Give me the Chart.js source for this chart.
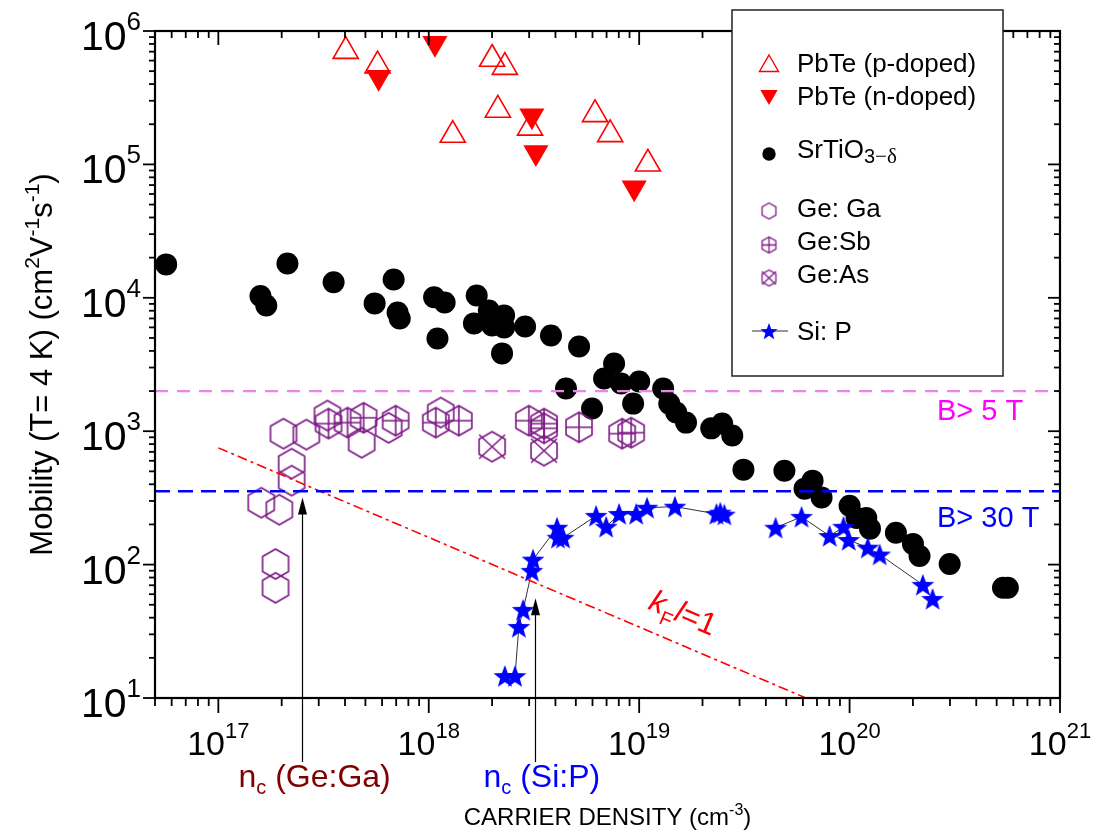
<!DOCTYPE html>
<html>
<head>
<meta charset="utf-8">
<title>Mobility vs carrier density</title>
<script src="https://cdn.jsdelivr.net/npm/chart.js@4.4.1/dist/chart.umd.min.js"></script>
<style>
  html, body { margin: 0; padding: 0; background: #fff; }
  canvas { display: block; }
</style>
</head>
<body>
<canvas id="mobilityChart" width="1104" height="835"></canvas>
<script>
// ---- data: carrier density (cm^-3) / mobility at 4 K (cm^2 V^-1 s^-1) ----
const xMin = 5e16, xMax = 1e21;
const yMin = 10, yMax = 1e6;
const xDecades = [17, 18, 19, 20, 21];
const yDecades = [1, 2, 3, 4, 5, 6];

const pbtePDensity  = [4.03e17, 5.71e17, 2.0e18, 2.3e18, 2.13e18, 1.3e18, 3.03e18, 6.17e18, 7.28e18, 1.1e19];
const pbtePMobility = [7.06e5, 5.5e5, 6.17e5, 5.36e5, 2.56e5, 1.66e5, 1.88e5, 2.37e5, 1.68e5, 1.01e5];

const pbteNDensity  = [5.78e17, 1.07e18, 3.09e18, 3.23e18, 9.47e18];
const pbteNMobility = [4.5e5, 8.1e5, 2.32e5, 1.23e5, 6.68e4];

const stoDensity = [5.65e16, 1.585e17, 1.69e17, 2.13e17, 3.53e17, 5.53e17, 6.81e17, 7.11e17, 7.28e17,
  1.06e18, 1.19e18, 1.10e18, 1.69e18, 1.64e18, 1.93e18, 2.0e18, 2.28e18, 2.28e18, 2.23e18, 2.87e18,
  3.81e18, 5.18e18, 4.49e18, 5.97e18, 7.6e18, 6.81e18, 8.2e18, 1.0e19, 9.36e18, 1.30e19, 1.39e19,
  1.50e19, 1.67e19, 2.20e19, 2.48e19, 2.77e19, 3.13e19, 4.9e19, 6.67e19, 6.11e19, 7.36e19, 1.0e20,
  1.08e20, 1.20e20, 1.25e20, 1.66e20, 2.0e20, 2.15e20, 2.99e20, 5.36e20, 5.65e20];
const stoMobility = [1.78e4, 1.03e4, 8.77e3, 1.81e4, 1.31e4, 9.08e3, 1.37e4, 7.77e3, 7.0e3,
  1.01e4, 9.23e3, 4.95e3, 1.04e4, 6.43e3, 8.04e3, 6.21e3, 7.38e3, 6.0e3, 3.83e3, 6.1e3,
  5.22e3, 4.32e3, 2.09e3, 1.48e3, 3.22e3, 2.48e3, 2.28e3, 2.36e3, 1.61e3, 2.09e3, 1.61e3,
  1.38e3, 1.16e3, 1.05e3, 1.14e3, 927, 515, 506, 426, 371, 318, 276,
  224, 224, 186, 173, 143, 116, 101, 67, 67];

const geGaDensity  = [1.60e17, 1.95e17, 1.87e17, 1.87e17, 2.23e17, 2.23e17, 2.04e17, 2.62e17, 3.30e17, 4.80e17, 6.45e17, 1.14e18];
const geGaMobility = [291, 258, 101, 67, 571, 426, 959, 943, 1310, 820, 1060, 1380];

const geSbDensity  = [3.34e17, 4.11e17, 4.90e17, 6.96e17, 1.08e18, 1.39e18, 2.99e18, 3.53e18, 3.53e18, 5.18e18, 8.3e18, 9.16e18];
const geSbMobility = [1140, 1160, 1260, 1200, 1160, 1200, 1200, 1140, 1050, 1070, 959, 975];

const geAsDensity  = [2.0e18, 3.53e18];
const geAsMobility = [766, 715];

// Si:P is joined by a thin line in two separate runs
const siPLowDensity  = [2.30e18, 2.57e18, 2.68e18, 2.81e18, 3.09e18, 3.13e18, 4.07e18, 4.11e18, 4.35e18,
  6.24e18, 6.97e18, 8.03e18, 9.68e18, 1.09e19, 1.48e19, 2.33e19, 2.43e19, 2.54e19];
const siPLowMobility = [14.6, 14.6, 34.1, 45.8, 89.8, 109, 189, 159, 159,
  232, 192, 240, 240, 267, 272, 240, 245, 237];
const siPHighDensity  = [4.45e19, 5.91e19, 8.04e19, 9.36e19, 9.9e19, 1.22e20, 1.39e20, 2.23e20, 2.48e20];
const siPHighMobility = [189, 228, 164, 192, 153, 134, 119, 70.5, 55.3];

// k_F l = 1 guide line end points
const kflDensity  = [1e17, 6.2e19];
const kflMobility = [750, 10];

// field limits
const fieldMobility = [2000, 355];
const fieldLabels = ['B> 5 T', 'B> 30 T'];

// critical densities marked by arrows
const ncDensity = [2.5e17, 3.2e18];
const ncTipMobility = [318, 56];
const ncNames = [' (Ge:Ga)', ' (Si:P)'];

// ---- marker images ----
const PURPLE = '#7d1a85';
const SANS = '"Liberation Sans", Arial, sans-serif';

function makeHexagon(r, mark, lw) {
  const size = Math.ceil(2 * r + 2 * lw + 2);
  const c = document.createElement('canvas');
  c.width = size; c.height = size;
  const g = c.getContext('2d');
  const cx = size / 2, cy = size / 2, w = r * Math.cos(Math.PI / 6);
  g.strokeStyle = PURPLE;
  g.lineWidth = lw;
  g.beginPath();
  for (let k = 0; k < 6; k++) {
    const a = Math.PI / 2 + k * Math.PI / 3;
    const px = cx + r * Math.cos(a), py = cy - r * Math.sin(a);
    if (k === 0) g.moveTo(px, py); else g.lineTo(px, py);
  }
  g.closePath();
  if (mark === 'plus') {
    g.moveTo(cx, cy - r); g.lineTo(cx, cy + r);
    g.moveTo(cx - w, cy); g.lineTo(cx + w, cy);
  } else if (mark === 'cross') {
    g.moveTo(cx - w, cy - 0.8 * r); g.lineTo(cx + w, cy + 0.8 * r);
    g.moveTo(cx + w, cy - 0.8 * r); g.lineTo(cx - w, cy + 0.8 * r);
  }
  g.stroke();
  return c;
}

function makeStar(R, ri, color) {
  const size = Math.ceil(2 * R + 2);
  const c = document.createElement('canvas');
  c.width = size; c.height = size;
  const g = c.getContext('2d');
  g.fillStyle = color;
  g.beginPath();
  for (let k = 0; k < 10; k++) {
    const a = -Math.PI / 2 + k * Math.PI / 5;
    const rr = k % 2 ? ri : R;
    const px = size / 2 + rr * Math.cos(a), py = size / 2 + 1 + rr * Math.sin(a);
    if (k === 0) g.moveTo(px, py); else g.lineTo(px, py);
  }
  g.closePath();
  g.fill();
  return c;
}

const hexPlain = makeHexagon(15, null, 1.6);
const hexPlus = makeHexagon(15, 'plus', 1.6);
const hexCross = makeHexagon(15, 'cross', 1.6);
const starBlue = makeStar(12, 5, '#0000ff');

const pairs = (xs, ys) => xs.map((x, i) => ({ x, y: ys[i] }));

// ---- text helpers ----
function drawRuns(ctx, runs, x, y, align) {
  let total = 0;
  runs.forEach(r => { ctx.font = r[1]; total += ctx.measureText(r[0]).width; });
  let cx = align === 'center' ? x - total / 2 : align === 'right' ? x - total : x;
  runs.forEach(r => {
    ctx.font = r[1];
    ctx.fillText(r[0], cx, y + (r[2] || 0));
    cx += ctx.measureText(r[0]).width;
  });
}

// ---- frame, ticks, labels and annotations ----
const decorations = {
  id: 'decorations',
  afterDatasetsDraw(chart) {
    const { ctx, chartArea: a, scales: { x, y } } = chart;
    ctx.save();
    ctx.strokeStyle = '#000';
    ctx.fillStyle = '#000';
    ctx.lineWidth = 2.2;
    ctx.strokeRect(a.left, a.top, a.right - a.left, a.bottom - a.top);

    const seg = (x0, y0, x1, y1) => { ctx.beginPath(); ctx.moveTo(x0, y0); ctx.lineTo(x1, y1); ctx.stroke(); };
    ctx.lineWidth = 1.8;
    for (let e = 16; e <= 21; e++) {
      for (let m = 1; m <= 9; m++) {
        const v = m * Math.pow(10, e);
        if (v < xMin * 0.999 || v > xMax * 1.001) continue;
        const px = x.getPixelForValue(v);
        const major = m === 1;
        seg(px, a.bottom, px, a.bottom + (major ? 15 : 8));
        seg(px, a.top, px, a.top + (major ? 14 : 7));
      }
    }
    for (let e = 1; e <= 6; e++) {
      for (let m = 1; m <= 9; m++) {
        const v = m * Math.pow(10, e);
        if (v > yMax * 1.001) continue;
        const py = y.getPixelForValue(v);
        const major = m === 1;
        seg(a.left, py, a.left - (major ? 12 : 6), py);
        seg(a.right, py, a.right - (major ? 12 : 6), py);
      }
    }

    // decade labels
    ctx.textBaseline = 'alphabetic';
    xDecades.forEach(e => {
      const px = x.getPixelForValue(Math.pow(10, e));
      drawRuns(ctx, [['10', '34px ' + SANS], [String(e), '22px ' + SANS, -17]], px, a.bottom + 57, 'center');
    });
    yDecades.forEach(e => {
      const py = y.getPixelForValue(Math.pow(10, e));
      drawRuns(ctx, [['10', '41px ' + SANS], [String(e), '26px ' + SANS, -20]], a.left - 14, py + 19, 'right');
    });

    // axis titles
    drawRuns(ctx, [['CARRIER DENSITY (cm', '24px ' + SANS], ['-3', '16px ' + SANS, -10], [')', '24px ' + SANS]],
      (a.left + a.right) / 2, a.bottom + 127, 'center');
    ctx.save();
    ctx.translate(52, (a.top + a.bottom) / 2);
    ctx.rotate(-Math.PI / 2);
    drawRuns(ctx, [['Mobility (T= 4 K) (cm', '31px ' + SANS], ['2', '21px ' + SANS, -13], ['V', '31px ' + SANS],
      ['-1', '21px ' + SANS, -13], ['s', '31px ' + SANS], ['-1', '21px ' + SANS, -13], [')', '31px ' + SANS]], 0, 0, 'center');
    ctx.restore();

    // field limit labels
    const fieldColors = ['#ff00ff', '#0000ff'];
    const fieldDrop = [29, 36];
    fieldLabels.forEach((t, i) => {
      ctx.fillStyle = fieldColors[i];
      ctx.font = '29px ' + SANS;
      ctx.fillText(t, a.right - 123, y.getPixelForValue(fieldMobility[i]) + fieldDrop[i]);
    });

    // k_F l = 1 label, parallel to the guide line
    const p0x = x.getPixelForValue(kflDensity[0]), p0y = y.getPixelForValue(kflMobility[0]);
    const p1x = x.getPixelForValue(kflDensity[1]), p1y = y.getPixelForValue(kflMobility[1]);
    const ang = Math.atan2(p1y - p0y, p1x - p0x);
    const lx = x.getPixelForValue(1.0e19);
    const ly = p0y + (lx - p0x) * Math.tan(ang);
    ctx.save();
    ctx.translate(lx + 20 * Math.sin(ang), ly - 20 * Math.cos(ang));
    ctx.rotate(ang);
    ctx.fillStyle = '#ff0000';
    drawRuns(ctx, [['k', 'italic 31px ' + SANS], ['F', '20px ' + SANS, 9], ['l', 'italic 31px ' + SANS], ['=1', '31px ' + SANS]], 0, 0, 'left');
    ctx.restore();

    // critical density arrows
    const ncColors = ['#800000', '#0000ff'];
    const ncShift = [64, 52];
    ncDensity.forEach((d, i) => {
      const px = Math.round(x.getPixelForValue(d)) + 0.5;
      const tip = y.getPixelForValue(ncTipMobility[i]);
      ctx.strokeStyle = '#000';
      ctx.fillStyle = '#000';
      ctx.lineWidth = 1.2;
      seg(px, a.bottom + 64, px, tip + 10);
      ctx.beginPath();
      ctx.moveTo(px, tip);
      ctx.lineTo(px - 4.5, tip + 17);
      ctx.lineTo(px + 4.5, tip + 17);
      ctx.closePath();
      ctx.fill();
      ctx.fillStyle = ncColors[i];
      drawRuns(ctx, [['n', '32px ' + SANS], ['c', '20px ' + SANS, 7], [ncNames[i], '32px ' + SANS]],
        px - ncShift[i], a.bottom + 89, 'left');
    });
    ctx.restore();
  },
  afterDraw(chart) {
    // legend box
    const ctx = chart.ctx;
    const draw = Chart.helpers.drawPoint;
    ctx.save();
    ctx.fillStyle = '#fff';
    ctx.fillRect(732, 10, 271, 366);
    ctx.strokeStyle = '#222';
    ctx.lineWidth = 1.5;
    ctx.strokeRect(732, 10, 271, 366);

    const mx = 769, tx = 797;
    const F = '26px ' + SANS;
    ctx.textBaseline = 'alphabetic';

    ctx.strokeStyle = '#ff0000'; ctx.fillStyle = 'rgba(0,0,0,0)'; ctx.lineWidth = 1.4;
    draw(ctx, { pointStyle: 'triangle', radius: 11, rotation: 0, borderWidth: 1.4 }, mx, 66);
    ctx.fillStyle = '#ff0000';
    draw(ctx, { pointStyle: 'triangle', radius: 10, rotation: 180, borderWidth: 0 }, mx, 95);
    ctx.fillStyle = '#000';
    draw(ctx, { pointStyle: 'circle', radius: 6.7, rotation: 0, borderWidth: 0 }, mx, 154);

    const small = [makeHexagon(8, null, 1.3), makeHexagon(8, 'plus', 1.3), makeHexagon(8, 'cross', 1.3)];
    [211, 245, 278].forEach((yy, i) => draw(ctx, { pointStyle: small[i], radius: 8, rotation: 0 }, mx, yy));

    ctx.strokeStyle = '#333'; ctx.lineWidth = 1.2;
    ctx.beginPath(); ctx.moveTo(752, 331); ctx.lineTo(788, 331); ctx.stroke();
    draw(ctx, { pointStyle: makeStar(9, 3.8, '#0000ff'), radius: 8, rotation: 0 }, mx, 331);

    ctx.fillStyle = '#000';
    drawRuns(ctx, [['PbTe (p-doped)', F]], tx, 72, 'left');
    drawRuns(ctx, [['PbTe (n-doped)', F]], tx, 105, 'left');
    drawRuns(ctx, [['SrTiO', F], ['3', '20px ' + SANS, 5], ['\u2212\u03b4', '21px "Liberation Serif", serif', 5]], tx, 158, 'left');
    drawRuns(ctx, [['Ge: Ga', F]], tx, 217, 'left');
    drawRuns(ctx, [['Ge:Sb', F]], tx, 250, 'left');
    drawRuns(ctx, [['Ge:As', F]], tx, 283, 'left');
    drawRuns(ctx, [['Si: P', F]], tx, 340, 'left');
    ctx.restore();
  }
};

const markerSet = (data, extra) => Object.assign({ data, showLine: false }, extra);

new Chart(document.getElementById('mobilityChart'), {
  type: 'scatter',
  data: {
    datasets: [
      {
        data: [{ x: xMin, y: fieldMobility[0] }, { x: xMax, y: fieldMobility[0] }],
        showLine: true, pointRadius: 0, borderColor: '#ee82ee', borderWidth: 2.2, borderDash: [13, 9], order: 0
      },
      {
        data: [{ x: xMin, y: fieldMobility[1] }, { x: xMax, y: fieldMobility[1] }],
        showLine: true, pointRadius: 0, borderColor: '#0000ff', borderWidth: 2.5, borderDash: [15, 8], order: 0
      },
      {
        data: pairs(kflDensity, kflMobility),
        showLine: true, pointRadius: 0, borderColor: '#ff0000', borderWidth: 1.6, borderDash: [10, 4, 3, 4], order: 1
      },
      markerSet(pairs(pbtePDensity, pbtePMobility), {
        pointStyle: 'triangle', pointRadius: 14.5, pointBorderColor: '#ff0000',
        pointBackgroundColor: 'rgba(0,0,0,0)', pointBorderWidth: 1.6, order: 3
      }),
      markerSet(pairs(pbteNDensity, pbteNMobility), {
        pointStyle: 'triangle', pointRotation: 180, pointRadius: 14.5, pointBorderWidth: 0,
        pointBackgroundColor: '#ff0000', pointBorderColor: '#ff0000', order: 2
      }),
      markerSet(pairs(stoDensity, stoMobility), {
        pointStyle: 'circle', pointRadius: 11, pointBorderWidth: 0,
        pointBackgroundColor: '#000', pointBorderColor: '#000', order: 6
      }),
      markerSet(pairs(geGaDensity, geGaMobility), { pointStyle: hexPlain, pointRadius: 15, order: 5 }),
      markerSet(pairs(geSbDensity, geSbMobility), { pointStyle: hexPlus, pointRadius: 15, order: 5 }),
      markerSet(pairs(geAsDensity, geAsMobility), { pointStyle: hexCross, pointRadius: 15, order: 5 }),
      {
        data: pairs(siPLowDensity, siPLowMobility),
        showLine: true, borderColor: '#333', borderWidth: 1, pointStyle: starBlue, pointRadius: 10, order: 4
      },
      {
        data: pairs(siPHighDensity, siPHighMobility),
        showLine: true, borderColor: '#333', borderWidth: 1, pointStyle: starBlue, pointRadius: 10, order: 4
      }
    ]
  },
  options: {
    responsive: false,
    animation: false,
    events: [],
    layout: { padding: { left: 155, right: 44, top: 31, bottom: 137 } },
    scales: {
      x: { type: 'logarithmic', min: xMin, max: xMax, display: false },
      y: { type: 'logarithmic', min: yMin, max: yMax, display: false }
    },
    plugins: {
      legend: { display: false },
      tooltip: { enabled: false }
    }
  },
  plugins: [decorations]
});
</script>
</body>
</html>
